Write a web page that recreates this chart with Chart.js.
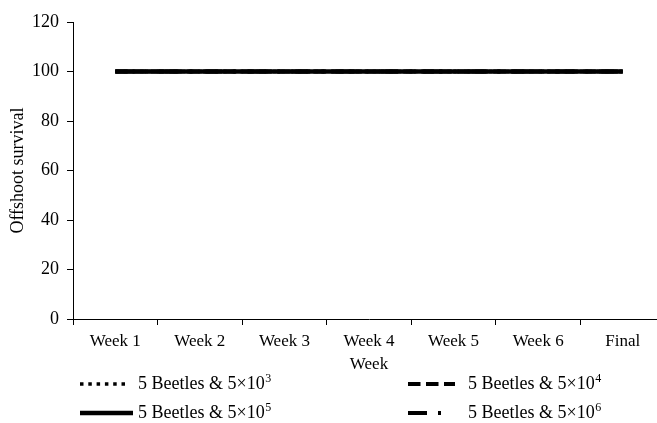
<!DOCTYPE html>
<html>
<head>
<meta charset="utf-8">
<script src="https://cdn.jsdelivr.net/npm/chart.js@4/dist/chart.umd.min.js"></script>
<style>
  html, body { margin: 0; padding: 0; background: #fff; overflow: hidden; }
  #wrap { width: 665px; height: 423px; position: relative; }
</style>
</head>
<body>
<div id="wrap"><canvas id="c"></canvas></div>
<script>
// ---- data ----
const weeks = ['Week 1', 'Week 2', 'Week 3', 'Week 4', 'Week 5', 'Week 6', 'Final'];
const seriesNames = ['5 Beetles & 5×10³', '5 Beetles & 5×10⁴', '5 Beetles & 5×10⁵', '5 Beetles & 5×10⁶'];
const survival1e3 = [100, 100, 100, 100, 100, 100, 100];
const survival1e4 = [100, 100, 100, 100, 100, 100, 100];
const survival1e5 = [100, 100, 100, 100, 100, 100, 100];
const survival1e6 = [100, 100, 100, 100, 100, 100, 100];
const yTicks = [0, 20, 40, 60, 80, 100, 120];

const FONT = 'Liberation Serif, Times New Roman, serif';

const styles = [
  { dash: [3.5, 4.8], width: 3.5, order: 1, len: 46 },
  { dash: [12.5, 5.5], width: 4, order: 1, len: 47 },
  { dash: [], width: 4.5, order: 0, len: 53 },
  { dash: [19, 11, 3, 11], width: 4, order: 1, len: 36 }
];
const values = [survival1e3, survival1e4, survival1e5, survival1e6];

const datasets = values.map((v, i) => ({
  label: seriesNames[i],
  data: v,
  borderColor: '#000',
  backgroundColor: '#000',
  borderWidth: styles[i].width,
  borderDash: styles[i].dash,
  borderCapStyle: 'butt',
  pointRadius: 0,
  fill: false,
  tension: 0,
  order: styles[i].order
}));

const SUP = { '⁰': '0', '¹': '1', '²': '2', '³': '3', '⁴': '4', '⁵': '5', '⁶': '6', '⁷': '7', '⁸': '8', '⁹': '9' };

// custom two-column legend drawn from the datasets
const legendPlugin = {
  id: 'twoColLegend',
  afterDraw(chart) {
    const ctx = chart.ctx;
    const cols = [{ x: 80, tx: 138 }, { x: 408, tx: 468 }];
    const rows = [384, 413];
    chart.data.datasets.forEach((ds, i) => {
      const c = cols[i % 2];
      const y = rows[Math.floor(i / 2)];
      ctx.save();
      ctx.strokeStyle = ds.borderColor;
      ctx.lineWidth = ds.borderWidth;
      ctx.lineCap = 'butt';
      ctx.setLineDash(ds.borderDash || []);
      ctx.beginPath();
      ctx.moveTo(c.x, y);
      ctx.lineTo(c.x + styles[i].len, y);
      ctx.stroke();
      ctx.setLineDash([]);
      ctx.fillStyle = '#000';
      ctx.textBaseline = 'middle';
      ctx.textAlign = 'left';
      const label = ds.label;
      const last = label.slice(-1);
      if (SUP[last]) {
        const base = label.slice(0, -1);
        ctx.font = '18px ' + FONT;
        ctx.fillText(base, c.tx, y);
        const w = ctx.measureText(base).width;
        ctx.font = '12px ' + FONT;
        ctx.fillText(SUP[last], c.tx + w + 0.5, y - 5);
      } else {
        ctx.font = '18px ' + FONT;
        ctx.fillText(label, c.tx, y);
      }
      ctx.restore();
    });
  }
};

new Chart(document.getElementById('c'), {
  type: 'line',
  data: { labels: weeks, datasets },
  plugins: [legendPlugin],
  options: {
    responsive: true,
    maintainAspectRatio: false,
    devicePixelRatio: 1,
    animation: false,
    layout: { padding: { top: 22, right: 0, bottom: 50, left: 0 } },
    plugins: { legend: { display: false }, tooltip: { enabled: false } },
    scales: {
      x: {
        type: 'category',
        offset: true,
        afterFit: s => { s.height = 54; },
        border: { color: '#000', width: 1 },
        grid: { display: true, drawOnChartArea: false, drawTicks: true, tickLength: 6, color: '#000', offset: true },
        ticks: { color: '#000', font: { family: FONT, size: 17 }, padding: 6, maxRotation: 0, autoSkip: false },
        title: { display: true, text: 'Week', color: '#000', font: { family: FONT, size: 17, lineHeight: 1 }, padding: { top: 0, bottom: 0 } }
      },
      y: {
        min: 0,
        max: 120,
        afterFit: s => { s.width = 73; },
        afterBuildTicks: s => { s.ticks = yTicks.map(v => ({ value: v })); },
        border: { color: '#000', width: 1 },
        grid: { display: true, drawOnChartArea: false, drawTicks: true, tickLength: 6, color: '#000' },
        ticks: { color: '#000', font: { family: FONT, size: 18 }, padding: 8 },
        title: { display: true, text: 'Offshoot survival', color: '#000', font: { family: FONT, size: 18, lineHeight: 1 }, padding: { top: 9, bottom: 0 } }
      }
    }
  }
});
</script>
</body>
</html>
